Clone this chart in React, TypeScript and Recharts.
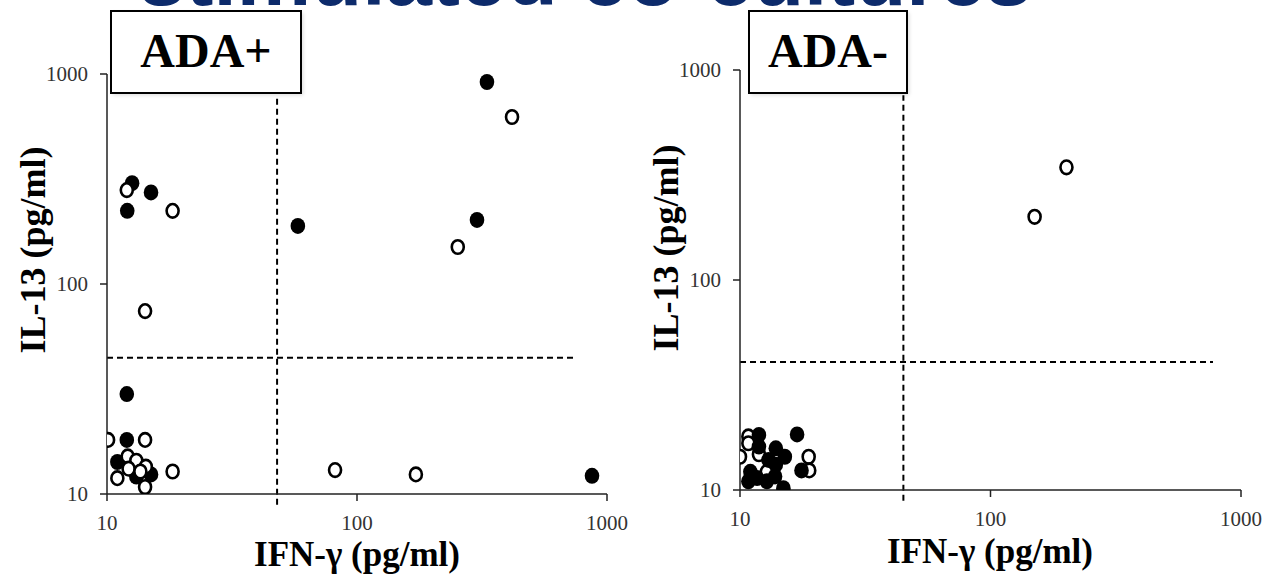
import { ScatterChart, Scatter, XAxis, YAxis, ReferenceLine } from 'recharts';

// IFN-γ (x) vs IL-13 (y), pg/ml, log axes
const xTicks = [10, 100, 1000];
const yTicks = [10, 100, 1000];

const plusFilled = [
  { x: 331, y: 916 }, { x: 302, y: 202 }, { x: 58, y: 189 }, { x: 871, y: 12.2 },
  { x: 12.6, y: 302 }, { x: 15, y: 273 }, { x: 12.05, y: 223 }, { x: 12, y: 29.9 },
  { x: 12, y: 18.1 }, { x: 11, y: 14.2 }, { x: 13.1, y: 12.1 }, { x: 15, y: 12.4 },
];
const plusOpen = [
  { x: 417, y: 624 }, { x: 253, y: 150 }, { x: 12, y: 280 }, { x: 18.3, y: 223 },
  { x: 14.2, y: 74.3 }, { x: 10.1, y: 18.1 }, { x: 14.2, y: 18.1 }, { x: 12.1, y: 15.1 },
  { x: 13.1, y: 14.4 }, { x: 14.3, y: 13.5 }, { x: 12.2, y: 13.2 }, { x: 13.6, y: 12.8 },
  { x: 11, y: 11.9 }, { x: 14.2, y: 10.8 }, { x: 18.3, y: 12.8 }, { x: 81.7, y: 13 },
  { x: 172, y: 12.4 },
];
const minusOpen = [
  { x: 201, y: 344 }, { x: 150, y: 200 }, { x: 10, y: 14.4 }, { x: 10.8, y: 18 },
  { x: 10.8, y: 16.7 }, { x: 11.9, y: 14.8 }, { x: 12.8, y: 12.2 }, { x: 18.8, y: 14.4 },
  { x: 18.9, y: 12.4 },
];
const minusFilled = [
  { x: 11.9, y: 18.3 }, { x: 11.9, y: 16.1 }, { x: 11, y: 12.2 }, { x: 11.7, y: 11.4 },
  { x: 10.8, y: 11 }, { x: 13.9, y: 15.8 }, { x: 15.1, y: 14.4 }, { x: 13.9, y: 13.2 },
  { x: 13.8, y: 11.6 }, { x: 14.9, y: 10.2 }, { x: 16.9, y: 18.4 }, { x: 17.6, y: 12.4 },
  { x: 13, y: 13.9 }, { x: 12.8, y: 11 },
];

// cut-off lines
const plusCut = { x: 47.9, y: 44.5, xEnd: 745, yTop: 794, yBottom: 8.9 };
const minusCut = { x: 44.9, y: 40.7, xEnd: 773, yTop: 759, yBottom: 8.9 };

const serif = '"Liberation Serif", "Times New Roman", serif';
const tickStyle = { fontSize: 21, fontFamily: serif, fill: '#333' };
const axisStroke = { stroke: '#222', strokeWidth: 1.5 };

const OpenDot = (p: any) => (
  <ellipse cx={p.cx} cy={p.cy} rx={6} ry={6.8} fill="#fff" stroke="#000" strokeWidth={2.6} />
);
const FilledDot = (p: any) => <ellipse cx={p.cx} cy={p.cy} rx={7.3} ry={8} fill="#000" />;

const dash = { stroke: '#000', strokeWidth: 2, strokeDasharray: '6 4' };

function Panel({ filled, open, cut, margin, openOnTop }: any) {
  const under = openOnTop ? filled : open;
  const over = openOnTop ? open : filled;
  return (
    <ScatterChart width={634} height={577} margin={margin}>
      <XAxis type="number" dataKey="x" scale="log" domain={[10, 1000]} ticks={xTicks} allowDataOverflow
        height={50} tick={tickStyle} tickSize={7} tickMargin={14} axisLine={axisStroke} tickLine={axisStroke} />
      <YAxis type="number" dataKey="y" scale="log" domain={[10, 1000]} ticks={yTicks} allowDataOverflow
        width={60} tick={tickStyle} tickSize={7} tickMargin={12} axisLine={axisStroke} tickLine={axisStroke} />
      <ReferenceLine segment={[{ x: cut.x, y: cut.yBottom }, { x: cut.x, y: cut.yTop }]} ifOverflow="visible" {...dash} />
      <ReferenceLine segment={[{ x: 10, y: cut.y }, { x: cut.xEnd, y: cut.y }]} ifOverflow="visible" {...dash} />
      <Scatter data={under} shape={openOnTop ? FilledDot : OpenDot} isAnimationActive={false} />
      <Scatter data={over} shape={openOnTop ? OpenDot : FilledDot} isAnimationActive={false} />
    </ScatterChart>
  );
}

const LabelBox = ({ x, w, text }: { x: number; w: number; text: string }) => (
  <g>
    <rect x={x + 2} y={13} width={w} height={82} fill="#000" opacity={0.15} filter="url(#blur)" />
    <rect x={x} y={11} width={w} height={82} fill="#fff" stroke="#000" strokeWidth={2} />
    <text x={x + w / 2} y={67} textAnchor="middle" fontFamily={serif} fontWeight="bold" fontSize={48}>{text}</text>
  </g>
);

export default function App() {
  return (
    <div style={{ position: 'absolute', left: 0, top: 0, width: 1268, height: 577, background: '#fff' }}>
      <div style={{ position: 'absolute', left: 0, top: 0 }}>
        <Panel filled={plusFilled} open={plusOpen} cut={plusCut} openOnTop
          margin={{ top: 74, right: 27, bottom: 33, left: 47 }} />
      </div>
      <div style={{ position: 'absolute', left: 634, top: 0 }}>
        <Panel filled={minusFilled} open={minusOpen} cut={minusCut} openOnTop={false}
          margin={{ top: 70, right: 27, bottom: 37, left: 46 }} />
      </div>
      <svg width={1268} height={577} style={{ position: 'absolute', left: 0, top: 0, pointerEvents: 'none' }}>
        <defs>
          <filter id="blur"><feGaussianBlur stdDeviation="2" /></filter>
        </defs>
        <text x={139} y={5} fontFamily='"Liberation Sans", Arial, sans-serif' fontWeight="bold" fontSize={84}
          fill="#0d2b6b" textLength={893} lengthAdjust="spacingAndGlyphs">stimulated co-cultures</text>
        <LabelBox x={111} w={190} text="ADA+" />
        <LabelBox x={749} w={158} text="ADA-" />
        <text transform="translate(45,250) rotate(-90)" textAnchor="middle" fontFamily={serif} fontWeight="bold" fontSize={36}>IL-13 (pg/ml)</text>
        <text transform="translate(678,248) rotate(-90)" textAnchor="middle" fontFamily={serif} fontWeight="bold" fontSize={36}>IL-13 (pg/ml)</text>
        <text x={357} y={566} textAnchor="middle" fontFamily={serif} fontWeight="bold" fontSize={35}>IFN-γ (pg/ml)</text>
        <text x={990} y={563} textAnchor="middle" fontFamily={serif} fontWeight="bold" fontSize={35}>IFN-γ (pg/ml)</text>
      </svg>
    </div>
  );
}
